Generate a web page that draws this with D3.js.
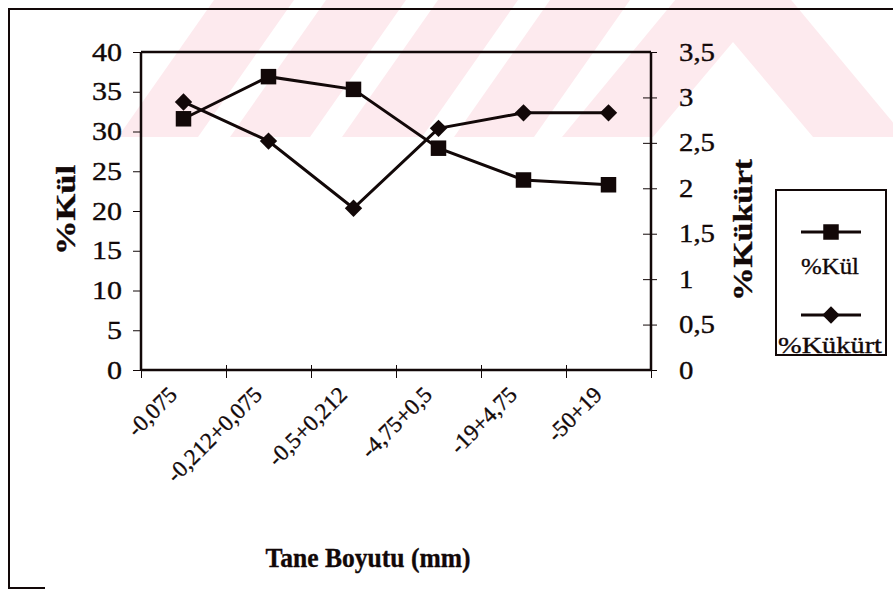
<!DOCTYPE html>
<html>
<head>
<meta charset="utf-8">
<script src="https://cdn.jsdelivr.net/npm/d3@7"></script>
<style>
  html, body { margin: 0; padding: 0; background: #fff; }
  svg { display: block; font-family: "Liberation Serif", "Times New Roman", serif; }
  svg text { stroke: #120808; stroke-width: 0.35px; }
</style>
</head>
<body>
<div id="chart"></div>
<script>
// chart data
const categories = ["-0,075", "-0,212+0,075", "-0,5+0,212", "-4,75+0,5", "-19+4,75", "-50+19"];
const kulValues = [31.6, 36.9, 35.3, 27.9, 23.9, 23.3];
const kukurtValues = [2.95, 2.52, 1.78, 2.66, 2.83, 2.83];
const leftTicks = [0, 5, 10, 15, 20, 25, 30, 35, 40];
const rightTicks = [0, 0.5, 1, 1.5, 2, 2.5, 3, 3.5];
const seriesNames = ["%Kül", "%Kükürt"];

const width = 893, height = 607;
const ink = "#120808";
const plot = {left: 141, right: 651, top: 52, bottom: 370};

// scanned text looks a bit wider than plain Times
const widen = function (sel, k) {
	sel.each(function () {
		const w = this.getComputedTextLength();
		d3.select(this).attr("textLength", w * k).attr("lengthAdjust", "spacingAndGlyphs");
	});
};

const svg = d3.select("#chart").append("svg")
	.attr("width", width)
	.attr("height", height);

svg.append("rect").attr("width", width).attr("height", height).attr("fill", "#fff");

// faint watermark band at the top
svg.append("clipPath").attr("id", "wmClip")
	.append("rect").attr("x", 0).attr("y", 0).attr("width", width).attr("height", 137);
const wm = svg.append("g").attr("clip-path", "url(#wmClip)");
const pink = "#fdeaee";
d3.range(4).forEach(i => {
	const x0 = 118 + i * 112;
	wm.append("polygon")
		.attr("points", [[x0, 137], [x0 + 80, 137], [x0 + 176, 0], [x0 + 96, 0]].join(" "))
		.attr("fill", pink);
});
wm.append("polygon")
	.attr("points", [[733, -70], [905, 137], [562, 137]].join(" "))
	.attr("fill", pink);
wm.append("polygon")
	.attr("points", [[733, 42], [813, 137], [653, 137]].join(" "))
	.attr("fill", "#fff");

// outer frame (partly cut off like the scan)
svg.append("path")
	.attr("d", "M893,9H9V588H45")
	.attr("fill", "none")
	.attr("stroke", ink)
	.attr("stroke-width", 2);

//Set up scales
const x = d3.scaleBand()
	.domain(categories)
	.range([plot.left, plot.right]);
const xEdge = d3.scaleLinear()
	.domain([0, categories.length])
	.range([plot.left, plot.right]);
const yLeft = d3.scaleLinear()
	.domain([0, 40])
	.range([plot.bottom, plot.top]);
const yRight = d3.scaleLinear()
	.domain([0, 3.5])
	.range([plot.bottom, plot.top]);
const comma = d => String(d).replace(".", ",");

// plot area top border
svg.append("line")
	.attr("x1", plot.left).attr("x2", plot.right)
	.attr("y1", plot.top).attr("y2", plot.top)
	.attr("stroke", ink).attr("stroke-width", 2.5);

// left axis
const leftAxis = svg.append("g")
	.attr("transform", "translate(" + plot.left + ",0)")
	.call(d3.axisLeft(yLeft).tickValues(leftTicks).tickSize(8).tickPadding(11).tickFormat(comma));

// right axis
const rightAxis = svg.append("g")
	.attr("transform", "translate(" + plot.right + ",0)")
	.call(d3.axisRight(yRight).tickValues(rightTicks).tickSize(6).tickPadding(22).tickFormat(comma));
rightAxis.selectAll(".tick line").attr("x1", -8);

// bottom axis: ticks at category edges
const bottomAxis = svg.append("g")
	.attr("transform", "translate(0," + plot.bottom + ")")
	.call(d3.axisBottom(xEdge).ticks(categories.length).tickSize(8).tickFormat(""));
bottomAxis.selectAll(".tick line").attr("y1", -5);

[leftAxis, rightAxis, bottomAxis].forEach(a => {
	a.select(".domain").attr("stroke", ink).attr("stroke-width", 2.5);
	a.selectAll(".tick line").attr("stroke", ink).attr("stroke-width", 1);
	a.selectAll(".tick text")
		.attr("fill", ink)
		.attr("font-size", 25)
		.attr("font-family", "Liberation Serif, serif");
});
leftAxis.select(".domain").attr("d", "M0," + plot.bottom + "V" + plot.top);
rightAxis.select(".domain").attr("d", "M0," + plot.bottom + "V" + plot.top);
bottomAxis.select(".domain").attr("d", "M" + plot.left + ",0H" + plot.right);
widen(leftAxis.selectAll(".tick text"), 1.2);
widen(rightAxis.selectAll(".tick text"), 1.15);

// category labels
svg.append("g").selectAll("text")
	.data(categories)
	.enter()
	.append("text")
	.attr("transform", d => "translate(" + (x(d) + x.bandwidth() / 2 - 5) + ",396) rotate(-45)")
	.attr("text-anchor", "end")
	.attr("font-size", 23)
	.attr("fill", ink)
	.text(d => d);

// axis titles
svg.append("text")
	.attr("transform", "translate(75,210) rotate(-90)")
	.attr("text-anchor", "middle")
	.attr("font-size", 27)
	.attr("font-weight", "bold")
	.attr("textLength", 90)
	.attr("lengthAdjust", "spacingAndGlyphs")
	.attr("fill", ink)
	.text("%Kül");

svg.append("text")
	.attr("transform", "translate(752,230) rotate(-90)")
	.attr("text-anchor", "middle")
	.attr("font-size", 28)
	.attr("font-weight", "bold")
	.attr("textLength", 142)
	.attr("lengthAdjust", "spacingAndGlyphs")
	.attr("fill", ink)
	.text("%Kükürt");

svg.append("text")
	.attr("x", 368)
	.attr("y", 567)
	.attr("text-anchor", "middle")
	.attr("font-size", 27)
	.attr("font-weight", "bold")
	.attr("textLength", 205)
	.attr("lengthAdjust", "spacingAndGlyphs")
	.attr("fill", ink)
	.text("Tane Boyutu (mm)");

// series
const cx = (d, i) => x(categories[i]) + x.bandwidth() / 2;
const lineLeft = d3.line().x(cx).y(d => yLeft(d));
const lineRight = d3.line().x(cx).y(d => yRight(d));

svg.append("path")
	.datum(kukurtValues)
	.attr("d", lineRight)
	.attr("fill", "none")
	.attr("stroke", ink)
	.attr("stroke-width", 3);

svg.append("path")
	.datum(kulValues)
	.attr("d", lineLeft)
	.attr("fill", "none")
	.attr("stroke", ink)
	.attr("stroke-width", 3);

const squareSym = d3.symbol().type(d3.symbolSquare).size(240);
const diamondSym = d3.symbol().type(d3.symbolSquare).size(150);

svg.append("g").selectAll("path")
	.data(kulValues)
	.enter()
	.append("path")
	.attr("d", squareSym)
	.attr("transform", (d, i) => "translate(" + cx(d, i) + "," + yLeft(d) + ")")
	.attr("fill", ink);

svg.append("g").selectAll("path")
	.data(kukurtValues)
	.enter()
	.append("path")
	.attr("d", diamondSym)
	.attr("transform", (d, i) => "translate(" + cx(d, i) + "," + yRight(d) + ") rotate(45)")
	.attr("fill", ink);

// legend
const legend = svg.append("g");
legend.append("rect")
	.attr("x", 776).attr("y", 190)
	.attr("width", 110).attr("height", 165)
	.attr("fill", "#fff")
	.attr("stroke", ink)
	.attr("stroke-width", 2);

const legendRows = [
	{name: seriesNames[0], sym: squareSym, rot: 0, lineY: 232, textY: 274, len: 58},
	{name: seriesNames[1], sym: diamondSym, rot: 45, lineY: 315, textY: 353, len: 104}
];
legendRows.forEach(r => {
	legend.append("line")
		.attr("x1", 801).attr("x2", 861)
		.attr("y1", r.lineY).attr("y2", r.lineY)
		.attr("stroke", ink).attr("stroke-width", 3);
	legend.append("path")
		.attr("d", r.sym)
		.attr("transform", "translate(831," + r.lineY + ") rotate(" + r.rot + ")")
		.attr("fill", ink);
	legend.append("text")
		.attr("x", 830)
		.attr("y", r.textY)
		.attr("text-anchor", "middle")
		.attr("font-size", 24)
		.attr("textLength", r.len)
		.attr("lengthAdjust", "spacingAndGlyphs")
		.attr("fill", ink)
		.text(r.name);
});
</script>
</body>
</html>
